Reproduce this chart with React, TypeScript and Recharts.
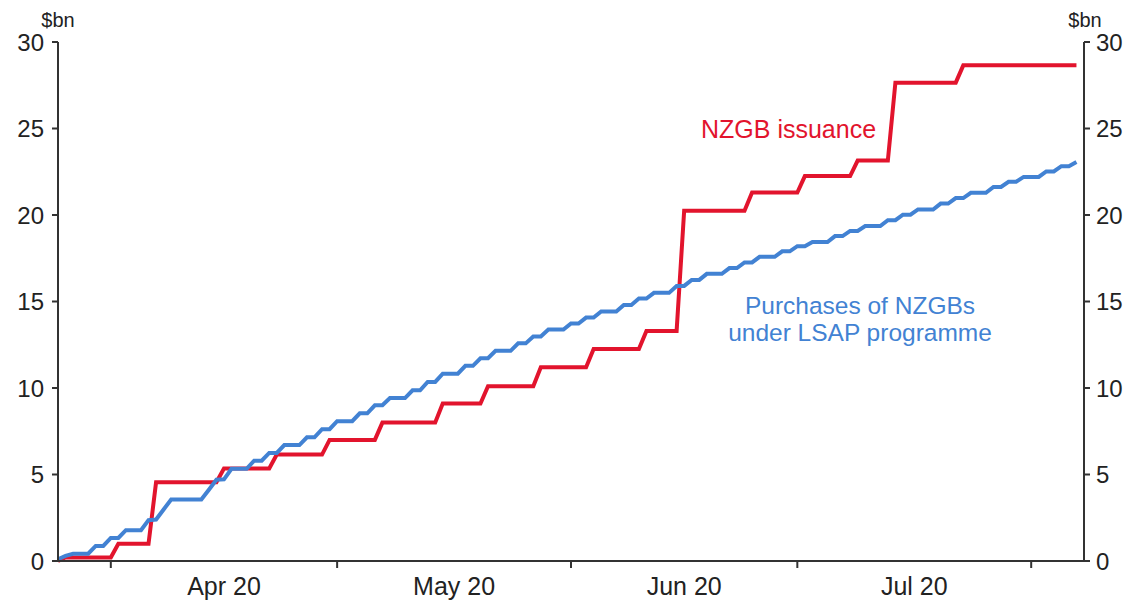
import React from 'react';
import { LineChart, Line, XAxis, YAxis } from 'recharts';

const FONT = '"Liberation Sans", Arial, Helvetica, sans-serif';
const RED = '#e2142d';
const BLUE = '#4282d3';
const AXIS = '#333';

// day 0 = 25 Mar 2020, one value per calendar day
const issuance = [
  0,
  0.2, 0.2, 0.2, 0.2, 0.2, 0.2, 0.2,
  1.0, 1.0, 1.0, 1.0, 1.0,
  4.55, 4.55, 4.55, 4.55, 4.55, 4.55, 4.55, 4.55, 4.55,
  5.35, 5.35, 5.35, 5.35, 5.35, 5.35, 5.35,
  6.15, 6.15, 6.15, 6.15, 6.15, 6.15, 6.15,
  7.0, 7.0, 7.0, 7.0, 7.0, 7.0, 7.0,
  8.0, 8.0, 8.0, 8.0, 8.0, 8.0, 8.0, 8.0,
  9.1, 9.1, 9.1, 9.1, 9.1, 9.1,
  10.1, 10.1, 10.1, 10.1, 10.1, 10.1, 10.1,
  11.2, 11.2, 11.2, 11.2, 11.2, 11.2, 11.2,
  12.25, 12.25, 12.25, 12.25, 12.25, 12.25, 12.25,
  13.3, 13.3, 13.3, 13.3, 13.3,
  20.25, 20.25, 20.25, 20.25, 20.25, 20.25, 20.25, 20.25, 20.25,
  21.3, 21.3, 21.3, 21.3, 21.3, 21.3, 21.3,
  22.25, 22.25, 22.25, 22.25, 22.25, 22.25, 22.25,
  23.15, 23.15, 23.15, 23.15, 23.15,
  27.65, 27.65, 27.65, 27.65, 27.65, 27.65, 27.65, 27.65, 27.65,
  28.65, 28.65, 28.65, 28.65, 28.65, 28.65, 28.65, 28.65,
  28.65, 28.65, 28.65, 28.65, 28.65, 28.65, 28.65, 28.65,
];

const lsap = [
  0.1, 0.3, 0.42, 0.42, 0.42, 0.87, 0.87,
  1.33, 1.33, 1.78, 1.78, 1.78, 2.36, 2.4,
  2.98, 3.55, 3.55, 3.55, 3.55, 3.55, 4.12,
  4.7, 4.72, 5.33, 5.33, 5.33, 5.8, 5.8,
  6.25, 6.25, 6.7, 6.7, 6.7, 7.15, 7.15,
  7.62, 7.62, 8.08, 8.08, 8.08, 8.54, 8.54,
  9.0, 9.0, 9.42, 9.42, 9.42, 9.87, 9.87,
  10.35, 10.35, 10.83, 10.83, 10.83, 11.28, 11.28,
  11.72, 11.72, 12.15, 12.15, 12.15, 12.58, 12.58,
  12.98, 12.98, 13.38, 13.38, 13.38, 13.73, 13.73,
  14.07, 14.07, 14.42, 14.42, 14.42, 14.8, 14.8,
  15.17, 15.17, 15.5, 15.5, 15.5, 15.9, 15.9,
  16.25, 16.25, 16.6, 16.6, 16.6, 16.93, 16.93,
  17.26, 17.26, 17.58, 17.58, 17.58, 17.9, 17.9,
  18.2, 18.2, 18.44, 18.44, 18.44, 18.78, 18.78,
  19.08, 19.08, 19.36, 19.36, 19.36, 19.7, 19.7,
  20.02, 20.02, 20.32, 20.32, 20.32, 20.66, 20.66,
  20.98, 20.98, 21.28, 21.28, 21.28, 21.62, 21.62,
  21.92, 21.92, 22.2, 22.2, 22.2, 22.52, 22.52,
  22.82, 22.82, 23.06,
];

// month boundaries (1 Apr .. 1 Aug) and mid-month label positions
const monthStarts = [7, 37, 68, 98, 129];
const monthMids = [22, 52.5, 83, 113.5];
const monthLabels = ['Apr 20', 'May 20', 'Jun 20', 'Jul 20'];
const yTicks = [0, 5, 10, 15, 20, 25, 30];

const data = issuance.map((v, i) => ({ day: i, issuance: v, lsap: lsap[i] }));

function MonthTick(props: any) {
  const { x, y, payload } = props;
  const i = monthMids.indexOf(payload.value);
  if (i >= 0) {
    return (
      <text x={x} y={y + 34} textAnchor="middle" fontSize={25} fill="#222" fontFamily={FONT}>
        {monthLabels[i]}
      </text>
    );
  }
  return <line x1={x} x2={x} y1={y} y2={y + 7} stroke={AXIS} strokeWidth={2} />;
}

const yTickStyle = { fontSize: 24, fill: '#222', fontFamily: FONT };

export default function App() {
  return (
    <div style={{ position: 'relative', width: 1131, height: 600 }}>
      <style>{'body{margin:0}'}</style>
      <LineChart width={1131} height={600} data={data} margin={{ top: 42, right: 0, bottom: 0, left: 0 }}>
        <XAxis
          dataKey="day"
          type="number"
          domain={[0, 136]}
          ticks={[...monthStarts, ...monthMids]}
          interval={0}
          tickLine={false}
          tickSize={0}
          tickMargin={0}
          tick={<MonthTick />}
          axisLine={{ stroke: AXIS, strokeWidth: 2 }}
          height={39}
        />
        <YAxis
          yAxisId="left"
          domain={[0, 30]}
          ticks={yTicks}
          width={58}
          tickSize={6}
          tickMargin={8}
          tick={yTickStyle}
          tickLine={{ stroke: AXIS, strokeWidth: 2 }}
          axisLine={{ stroke: AXIS, strokeWidth: 2 }}
        />
        <YAxis
          yAxisId="right"
          orientation="right"
          domain={[0, 30]}
          ticks={yTicks}
          width={47}
          tickSize={6}
          tickMargin={6}
          tick={yTickStyle}
          tickLine={{ stroke: AXIS, strokeWidth: 2 }}
          axisLine={{ stroke: AXIS, strokeWidth: 2 }}
        />
        <Line
          yAxisId="left"
          type="linear"
          dataKey="issuance"
          stroke={RED}
          strokeWidth={4}
          dot={false}
          isAnimationActive={false}
        />
        <Line
          yAxisId="right"
          type="linear"
          dataKey="lsap"
          stroke={BLUE}
          strokeWidth={4}
          dot={false}
          isAnimationActive={false}
        />
      </LineChart>
      <svg
        width={1131}
        height={600}
        style={{ position: 'absolute', left: 0, top: 0, pointerEvents: 'none' }}
        fontFamily={FONT}
      >
        <text x={58} y={27} textAnchor="middle" fontSize={20} fill="#222">$bn</text>
        <text x={1085} y={27} textAnchor="middle" fontSize={20} fill="#222">$bn</text>
        <text x={701} y={138} fontSize={25} fill={RED}>NZGB issuance</text>
        <text x={860} y={314} textAnchor="middle" fontSize={24.5} fill={BLUE}>Purchases of NZGBs</text>
        <text x={860} y={341} textAnchor="middle" fontSize={24.5} fill={BLUE}>under LSAP programme</text>
      </svg>
    </div>
  );
}
